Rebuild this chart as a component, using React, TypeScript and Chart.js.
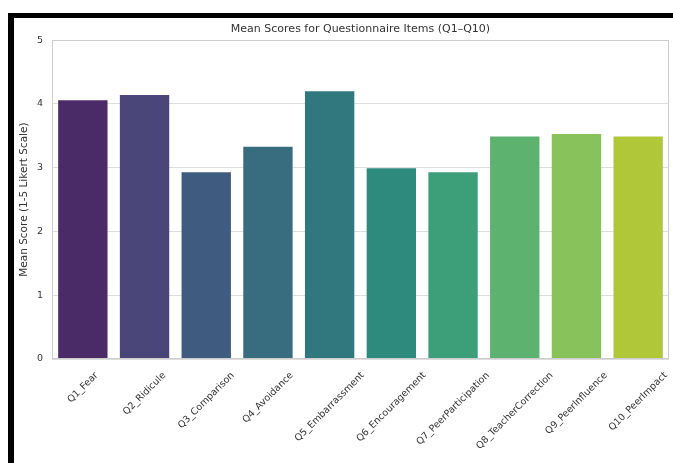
import React, { useEffect, useRef } from "react";
import { Chart, registerables } from "chart.js";

Chart.register(...registerables);

const categories = [
  "Q1_Fear",
  "Q2_Ridicule",
  "Q3_Comparison",
  "Q4_Avoidance",
  "Q5_Embarrassment",
  "Q6_Encouragement",
  "Q7_PeerParticipation",
  "Q8_TeacherCorrection",
  "Q9_PeerInfluence",
  "Q10_PeerImpact",
];
const meanScores = [4.06, 4.14, 2.93, 3.33, 4.2, 2.99, 2.93, 3.49, 3.53, 3.49];
const barColors = [
  "#4a2a67",
  "#4a4679",
  "#405b80",
  "#386c7f",
  "#31787e",
  "#2e8a7c",
  "#3d9e7a",
  "#5db26f",
  "#88c25b",
  "#b0c73a",
];
const yMin = 0;
const yMax = 5;
const yStep = 1;
const chartTitle = "Mean Scores for Questionnaire Items (Q1\u2013Q10)";
const yAxisTitle = "Mean Score (1-5 Likert Scale)";

const FONT = "'DejaVu Sans', sans-serif";
const TEXT = "#333333";

const frameAndLabels = {
  id: "frameAndLabels",
  afterDatasetsDraw(chart: any) {
    const { ctx, chartArea } = chart;
    ctx.save();
    ctx.strokeStyle = "#cccccc";
    ctx.lineWidth = 1;
    const l = Math.round(chartArea.left) + 0.5;
    const t = Math.round(chartArea.top) + 0.5;
    const r = Math.round(chartArea.right) - 0.5;
    const b = Math.round(chartArea.bottom) - 0.5;
    ctx.strokeRect(l, t, r - l, b - t);
    ctx.restore();
  },
  afterDraw(chart: any) {
    const { ctx, chartArea } = chart;
    const xScale = chart.scales.x;
    const size = 9.5;
    ctx.save();
    ctx.font = `${size}px ${FONT}`;
    ctx.fillStyle = TEXT;
    ctx.textAlign = "center";
    ctx.textBaseline = "middle";
    const gap = 11;
    const h = size * 1.17;
    categories.forEach((lab, i) => {
      const x = xScale.getPixelForTick(i);
      const w = ctx.measureText(lab).width;
      const H = (w + h) * Math.SQRT1_2;
      const cy = chartArea.bottom + gap + H / 2;
      ctx.save();
      ctx.translate(x, cy);
      ctx.rotate(-Math.PI / 4);
      ctx.fillText(lab, 0, 0);
      ctx.restore();
    });
    ctx.restore();
  },
};

function App() {
  const ref = useRef<HTMLCanvasElement | null>(null);
  useEffect(() => {
    if (!ref.current) return;
    const chart = new Chart(ref.current, {
      type: "bar",
      data: {
        labels: categories,
        datasets: [
          {
            data: meanScores,
            backgroundColor: barColors,
            borderWidth: 0,
            barPercentage: 0.8,
            categoryPercentage: 1,
          },
        ],
      },
      options: {
        animation: false,
        responsive: false,
        devicePixelRatio: 1,
        layout: { padding: { left: 0, right: 4, top: 0, bottom: 0 } },
        plugins: {
          legend: { display: false },
          tooltip: { enabled: false },
          title: {
            display: true,
            text: chartTitle,
            fullSize: false,
            color: TEXT,
            font: { family: FONT, size: 11, weight: "normal" },
            padding: { top: 5, bottom: 4 },
          },
        },
        scales: {
          x: {
            grid: { display: false },
            border: { display: false },
            ticks: { display: false },
            afterFit: (s: any) => {
              s.height = 104;
            },
          },
          y: {
            min: yMin,
            max: yMax,
            grid: { color: "#dddddd", lineWidth: 1, drawTicks: false },
            border: { display: false },
            ticks: {
              stepSize: yStep,
              padding: 9,
              color: TEXT,
              font: { family: FONT, size: 9.5 },
            },
            title: {
              display: true,
              text: yAxisTitle,
              color: TEXT,
              font: { family: FONT, size: 10.5 },
              padding: { top: 4, bottom: 0 },
            },
            afterFit: (s: any) => {
              s.width = 38;
            },
          },
        },
      },
      plugins: [frameAndLabels],
    });
    return () => chart.destroy();
  }, []);

  return (
    <div
      style={{
        position: "absolute",
        left: 8,
        top: 13,
        width: 665,
        height: 450,
        boxSizing: "border-box",
        borderTop: "5px solid #000",
        borderLeft: "6px solid #000",
        background: "#fff",
      }}
    >
      <canvas ref={ref} width={659} height={445} style={{ display: "block", width: 659, height: 445 }} />
    </div>
  );
}

export default App;
